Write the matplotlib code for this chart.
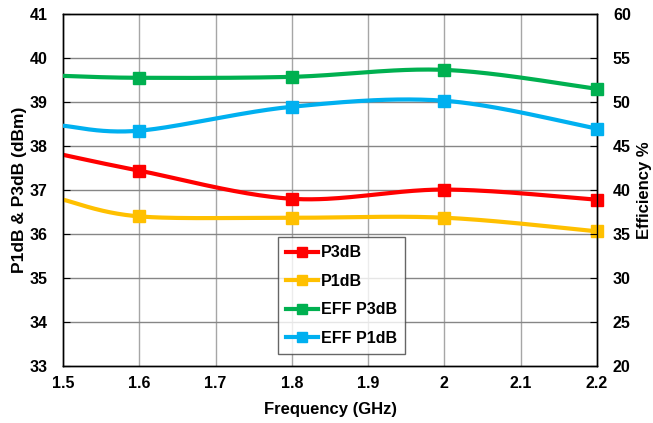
import numpy as np
import matplotlib
matplotlib.use("Agg")
import matplotlib.pyplot as plt
from matplotlib.lines import Line2D

freq = [1.5, 1.6, 1.8, 2.0, 2.2]
p3db = [37.80, 37.44, 36.80, 37.01, 36.78]
p1db = [36.78, 36.40, 36.37, 36.37, 36.06]
eff_p3db = [52.97, 52.75, 52.86, 53.65, 51.50]
eff_p1db = [47.30, 46.74, 49.46, 50.14, 46.97]

xticks = [1.5, 1.6, 1.7, 1.8, 1.9, 2.0, 2.1, 2.2]
xticklabels = ["1.5", "1.6", "1.7", "1.8", "1.9", "2", "2.1", "2.2"]

plt.rcParams['font.family'] = ['Liberation Sans', 'DejaVu Sans']
plt.rcParams['font.weight'] = 'bold'


def smooth(x, y, n=40):
    x = np.asarray(x, float); y = np.asarray(y, float)
    px = np.concatenate([[x[0]], x, [x[-1]]])
    py = np.concatenate([[y[0]], y, [y[-1]]])
    xs, ys = [], []
    t = np.linspace(0, 1, n)
    for i in range(1, len(px) - 2):
        p0, p1, p2, p3 = (np.array([px[j], py[j]]) for j in range(i - 1, i + 3))
        c1 = p1 + (p2 - p0) / 6
        c2 = p2 - (p3 - p1) / 6
        b = ((1 - t) ** 3)[:, None] * p1 + (3 * (1 - t) ** 2 * t)[:, None] * c1 \
            + (3 * (1 - t) * t ** 2)[:, None] * c2 + (t ** 3)[:, None] * p2
        xs.append(b[:, 0]); ys.append(b[:, 1])
    return np.concatenate(xs), np.concatenate(ys)


W, H = 653, 423
fig = plt.figure(figsize=(W / 100, H / 100), dpi=100)
ax = fig.add_axes([63 / W, (H - 366) / H, (597 - 63) / W, (366 - 14) / H])
ax2 = ax.twinx()

c_p3, c_p1, c_e3, c_e1 = '#ff0000', '#ffc000', '#00b050', '#00b0f0'
lw = 3.0
ms = 8.5

handles = []
for a, y, c, lab in [(ax, p3db, c_p3, 'P3dB'), (ax, p1db, c_p1, 'P1dB'),
                     (ax2, eff_p3db, c_e3, 'EFF P3dB'), (ax2, eff_p1db, c_e1, 'EFF P1dB')]:
    sx, sy = smooth(freq, y)
    a.plot(sx, sy, color=c, lw=lw, solid_capstyle='round', zorder=3)
    a.plot(freq[1:], y[1:], ls='none', marker='s', ms=ms, color=c, zorder=4, clip_on=False)
    handles.append(Line2D([], [], color=c, lw=lw, marker='s', ms=7, label=lab))

ax.set_xlim(1.5, 2.2)
ax.set_ylim(33, 41)
ax2.set_ylim(20, 60)
ax.set_xticks(xticks)
ax.set_xticklabels(xticklabels)
ax.set_yticks(range(33, 42))
ax2.set_yticks(range(20, 61, 5))

ax.grid(False)
for xv in xticks[1:-1]:
    ax.axvline(xv, color='#a6a6a6', lw=1.0, zorder=1)
for yv in range(34, 41):
    ax.axhline(yv, color='#868686', lw=1.0, zorder=1)

for a in (ax, ax2):
    for s in a.spines.values():
        s.set_color('black')
        s.set_linewidth(1.0)
ax.tick_params(axis='y', direction='in', length=5, labelsize=11.5, pad=11)
ax.tick_params(axis='x', direction='in', length=0, labelsize=11.5, pad=7)
ax2.tick_params(axis='y', direction='in', length=5, labelsize=11.5, pad=11.5)
for lab in ax.get_xticklabels() + ax.get_yticklabels() + ax2.get_yticklabels():
    lab.set_fontweight('bold')

ax.set_xlabel('Frequency (GHz)', fontsize=12, fontweight='bold', labelpad=8)
ax.set_ylabel('P1dB & P3dB (dBm)', fontsize=12.5, fontweight='bold', labelpad=2)
ax2.set_ylabel('Efficiency %', fontsize=12, fontweight='bold', labelpad=4)

leg = ax2.legend(handles=handles, loc='lower left', bbox_to_anchor=(0.403, 0.034),
                 fontsize=11.5, frameon=True, fancybox=False, edgecolor='#404040',
                 handlelength=2.0, handletextpad=0.15, borderpad=0.5, labelspacing=0.85,
                 borderaxespad=0)
leg.get_frame().set_linewidth(1.0)
for t in leg.get_texts():
    t.set_fontweight('bold')

fig.savefig('out.png', dpi=100)
